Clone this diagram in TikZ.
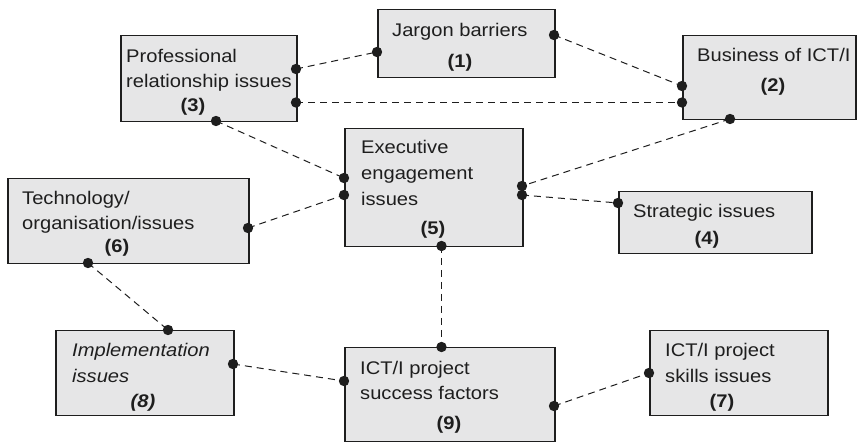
\documentclass[tikz,border=0pt]{standalone}
\usepackage{fontspec}
\setmainfont{Liberation Sans}[FakeStretch=1.1]
\definecolor{boxgrey}{RGB}{230,230,231}
\definecolor{ink}{RGB}{30,30,30}
\begin{document}
\begin{tikzpicture}[x=1pt,y=-1pt,
  box/.style={draw=ink, line width=1.5pt, fill=boxgrey, inner sep=0pt, anchor=north west},
  lbl/.style={inner sep=0pt, anchor=base west, text=ink, font=\fontsize{18.3}{24}\selectfont},
  num/.style={inner sep=0pt, anchor=base, text=ink, font=\fontsize{18.3}{24}\selectfont\bfseries},
  link/.style={draw=ink, line width=1pt, dash pattern=on 7pt off 5pt}]
\useasboundingbox (0,0) rectangle (857,443);

% boxes
\node[box, minimum width=177pt, minimum height=68pt]  (b1) at (377,9)   {};
\node[box, minimum width=173pt, minimum height=84pt]  (b2) at (682,35)  {};
\node[box, minimum width=176pt, minimum height=86pt]  (b3) at (120,35)  {};
\node[box, minimum width=178pt, minimum height=118pt] (b5) at (344,128) {};
\node[box, minimum width=193pt, minimum height=62pt]  (b4) at (618,191) {};
\node[box, minimum width=241pt, minimum height=85pt]  (b6) at (7,178)   {};
\node[box, minimum width=178pt, minimum height=85pt]  (b8) at (55,330)  {};
\node[box, minimum width=210pt, minimum height=94pt]  (b9) at (344,347) {};
\node[box, minimum width=178pt, minimum height=85pt]  (b7) at (649,330) {};

% labels
\node[lbl] (t1a) at (392,37) {Jargon barriers};
\node[num] (t1n) at (460,68) {(1)};
\node[lbl] (t2a) at (697,62) {Business of ICT/I};
\node[num] (t2n) at (773,92) {(2)};
\node[lbl] (t3a) at (126,63) {Professional};
\node[lbl] (t3b) at (126,87.5) {relationship issues};
\node[num] (t3n) at (193,112) {(3)};
\node[lbl] (t5a) at (361,154) {Executive};
\node[lbl] (t5b) at (361,180) {engagement};
\node[lbl] (t5c) at (361,206) {issues};
\node[num] (t5n) at (433,235) {(5)};
\node[lbl] (t4a) at (633,218) {Strategic issues};
\node[num] (t4n) at (707,245) {(4)};
\node[lbl] (t6a) at (22,205) {Technology/};
\node[lbl] (t6b) at (22,230) {organisation/issues};
\node[num] (t6n) at (117,253) {(6)};
\node[lbl] (t8a) at (72,357) {\itshape Implementation};
\node[lbl] (t8b) at (72,383) {\itshape issues};
\node[num] (t8n) at (143,408) {\itshape (8)};
\node[lbl] (t9a) at (360,375) {ICT/I project};
\node[lbl] (t9b) at (360,400) {success factors};
\node[num] (t9n) at (449,430) {(9)};
\node[lbl] (t7a) at (665,357) {ICT/I project};
\node[lbl] (t7b) at (665,383) {skills issues};
\node[num] (t7n) at (722,408) {(7)};

% connector end points on the box edges
\coordinate (p3a) at (296,69);    \coordinate (p1a) at (377,52);
\coordinate (p1b) at (554,35);    \coordinate (p2a) at (682,86);
\coordinate (p3b) at (296,102.5); \coordinate (p2b) at (682,102.5);
\coordinate (p3c) at (216,121);   \coordinate (p5a) at (344,178);
\coordinate (p6a) at (248,228);   \coordinate (p5b) at (344,195);
\coordinate (p2c) at (730,119);   \coordinate (p5c) at (522,186);
\coordinate (p5d) at (522,195);   \coordinate (p4a) at (618,203);
\coordinate (p5e) at (441.5,246); \coordinate (p9a) at (441.5,347);
\coordinate (p6b) at (88,263);    \coordinate (p8a) at (168,330);
\coordinate (p8b) at (233,364);   \coordinate (p9b) at (344,381);
\coordinate (p9c) at (554,406);   \coordinate (p7a) at (649,373);

% dashed links
\draw[link] (p3a) -- (p1a);
\draw[link] (p1b) -- (p2a);
\draw[link] (p3b) -- (p2b);
\draw[link] (p3c) -- (p5a);
\draw[link] (p6a) -- (p5b);
\draw[link] (p2c) -- (p5c);
\draw[link] (p5d) -- (p4a);
\draw[link] (p5e) -- (p9a);
\draw[link] (p6b) -- (p8a);
\draw[link] (p8b) -- (p9b);
\draw[link] (p9c) -- (p7a);

% end dots
\foreach \p in {p3a,p1a,p1b,p2a,p3b,p2b,p3c,p5a,p6a,p5b,p2c,p5c,p5d,p4a,p5e,p9a,p6b,p8a,p8b,p9b,p9c,p7a}
  \fill[ink] (\p) circle[radius=5.2pt];
\end{tikzpicture}
\end{document}
